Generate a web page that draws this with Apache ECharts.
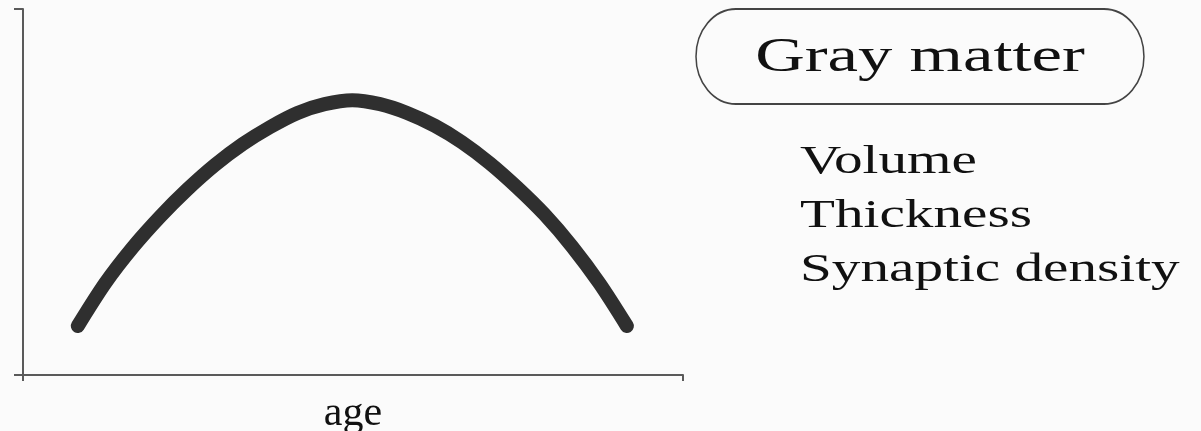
<!DOCTYPE html>
<html>
<head>
<meta charset="utf-8">
<script src="https://cdn.jsdelivr.net/npm/echarts@6/dist/echarts.min.js"></script>
<style>
  html, body { margin: 0; padding: 0; background: #fbfbfb; }
  #chart { width: 1201px; height: 431px; }
</style>
</head>
<body>
<div id="chart"></div>
<script>
// Gray matter development across the lifespan (schematic inverted-U)
const ages = [8.3, 12.5, 16.6, 20.8, 24.9, 29.1, 33.3, 37.4, 41.6, 45.7, 49.9, 54.1, 58.2, 62.4, 66.5, 70.7, 74.9, 79.0, 83.2, 87.4, 91.5];
const grayMatter = [13.4, 25.2, 34.8, 43.3, 50.7, 57.4, 63.1, 67.7, 71.6, 74.0, 75.1, 74.0, 71.6, 68.1, 63.6, 57.9, 51.2, 43.9, 35.1, 24.9, 13.4];

const xAxisTitle = 'age';
const boxTitle = 'Gray matter';
const measures = ['Volume', 'Thickness', 'Synaptic density'];

const serif = '"Liberation Serif", "DejaVu Serif", serif';
const ink = '#111';
const axisColor = '#5a5a5a';

const chart = echarts.init(document.getElementById('chart'), null, { renderer: 'canvas' });

// list of measured properties, one per line under the title box
const measureGraphics = measures.map((m, i) => ({
  type: 'text',
  x: 800,
  y: 142 + i * 54,
  scaleX: 1.43,
  style: {
    text: m,
    font: '40px ' + serif,
    fill: ink,
    align: 'left',
    verticalAlign: 'top'
  }
}));

chart.setOption({
  backgroundColor: '#fbfbfb',
  animation: false,
  grid: { left: 23, right: 518, top: 9, bottom: 56, containLabel: false, outerBoundsMode: 'none' },
  xAxis: {
    type: 'value',
    min: 0,
    max: 100,
    interval: 100,
    name: xAxisTitle,
    nameLocation: 'middle',
    nameGap: 18,
    nameTextStyle: { fontFamily: serif, fontSize: 42, color: ink },
    axisLine: { show: true, lineStyle: { color: axisColor, width: 2 } },
    axisTick: { show: true, length: 6, lineStyle: { color: axisColor, width: 2 } },
    axisLabel: { show: false },
    splitLine: { show: false }
  },
  yAxis: {
    type: 'value',
    min: 0,
    max: 100,
    interval: 100,
    axisLine: { show: true, lineStyle: { color: axisColor, width: 2 } },
    axisTick: { show: true, length: 9, lineStyle: { color: axisColor, width: 2 } },
    axisLabel: { show: false },
    splitLine: { show: false }
  },
  series: [{
    type: 'line',
    data: ages.map((a, i) => [a, grayMatter[i]]),
    smooth: 0.3,
    showSymbol: false,
    lineStyle: { color: '#2f2f2f', width: 14, cap: 'round', join: 'round' }
  }],
  graphic: [
    {
      // stadium-shaped frame, squeezed horizontally so the ends are elliptical
      type: 'rect',
      x: 696,
      y: 9,
      scaleX: 0.842,
      shape: { x: 0, y: 0, width: 532, height: 95, r: 47.5 },
      style: { fill: 'none', stroke: '#444', lineWidth: 1.8, strokeNoScale: true }
    },
    {
      type: 'text',
      x: 920,
      y: 34,
      scaleX: 1.43,
      style: {
        text: boxTitle,
        font: '48px ' + serif,
        fill: ink,
        align: 'center',
        verticalAlign: 'top'
      }
    }
  ].concat(measureGraphics)
});
</script>
</body>
</html>
